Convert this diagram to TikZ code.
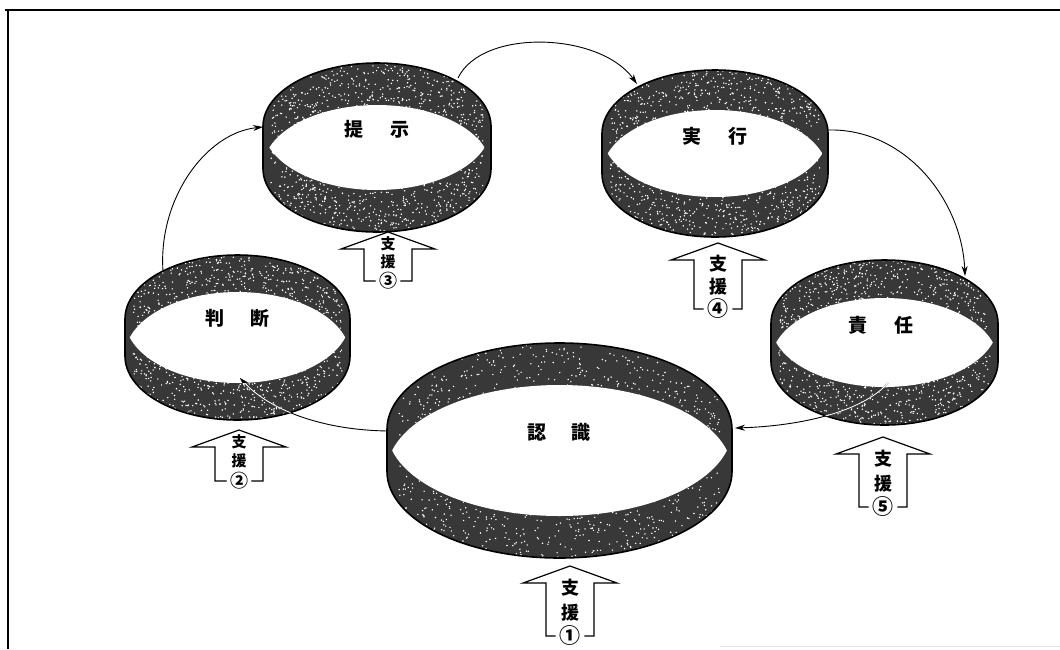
\documentclass[tikz,border=0pt]{standalone}
\usepackage{fontspec}
\newfontfamily\jp{Noto Sans CJK JP}
\usetikzlibrary{arrows.meta}
\tikzset{
  band/.style={fill=black!78},
  rimline/.style={draw=black, line width=1.6pt},
  conn/.style={line width=0.9pt, -{Stealth[length=10pt,width=6pt]}},
  connw/.style={line width=0.9pt, draw=white, -{Stealth[length=10pt,width=6pt]}},
  lbl/.style={font=\jp\bfseries\fontsize{19}{19}\selectfont, inner sep=0pt},
  suppbox/.style={draw=black, fill=white, line width=1.2pt, line join=miter},
  supptxt/.style={font=\jp\bfseries\fontsize{#1}{#1}\selectfont, inner sep=0pt},
  circnum/.style={font=\jp\bfseries\fontsize{#1}{#1}\selectfont, inner sep=0pt, fill=white, circle},
  frameline/.style={draw=black, line width=2pt},
}
% ring: cx, y of top rim centre, y of bottom rim centre, x radius, y radius
\newcommand{\ringdraw}[5]{%
  \path[band] (#1+#4,#2) arc[start angle=0,end angle=-180,x radius=#4,y radius=#5]
     -- (#1-#4,#3) arc[start angle=180,end angle=0,x radius=#4,y radius=#5] -- cycle;
  \begin{scope}
    \clip (#1+#4,#2) arc[start angle=0,end angle=-180,x radius=#4,y radius=#5]
     -- (#1-#4,#3) arc[start angle=180,end angle=0,x radius=#4,y radius=#5] -- cycle;
    \foreach \k in {1,...,1400}{%
      \fill[white] ({#1+(2*rnd-1)*#4*0.93},{#2-#5+rnd*(#3-#2+2*#5)}) circle[radius=0.8];}
  \end{scope}
  \begin{scope}
    \clip (#1,#2) ellipse[x radius=#4,y radius=#5];
    \fill[white] (#1,#3) ellipse[x radius=#4,y radius=#5];
  \end{scope}
  \path[rimline] (#1+#4,#2) arc[start angle=0,end angle=-180,x radius=#4,y radius=#5]
     -- (#1-#4,#3) arc[start angle=180,end angle=0,x radius=#4,y radius=#5] -- cycle;
}
% support arrow: tip x, tip y, bottom y, number glyph, name, text size, frac 1, frac 2, circle size
\newcommand{\suppArrow}[9]{%
  \path[suppbox] (#1,#2) -- (#1+47,#2+17) -- (#1+24,#2+17) -- (#1+24,#3)
     -- (#1-24,#3) -- (#1-24,#2+17) -- (#1-47,#2+17) -- cycle;
  \node[supptxt=#6] (#5a) at (#1,{#2+#7*(#3-#2)}) {支};
  \node[supptxt=#6] (#5b) at (#1,{#2+#8*(#3-#2)}) {援};
  \node[circnum=#9] (#5c) at (#1,#3) {#4};
}
\begin{document}
\begin{tikzpicture}[x=1pt,y=-1pt]
\useasboundingbox (0,0) rectangle (1060,649);
\pgfmathsetseed{4711}
% frame
\draw[frameline] (5,10) -- (1060,10);
\draw[frameline] (8,9) -- (8,649);
\draw[gray!22, line width=1pt] (720,646) -- (1060,646);

% rings
\ringdraw{377}{126.5}{168.5}{114}{63.5}
\ringdraw{715}{133.5}{173.5}{113}{63.5}
\ringdraw{237.5}{319}{356}{112.5}{64}
\ringdraw{884.5}{323.5}{361.5}{113.5}{63.5}
\ringdraw{559.5}{429.5}{471.5}{172.5}{86.5}

% labels
\node[lbl] (teiji)    at (377,129)   {提\hspace{1.4em}示};
\node[lbl] (jikko)    at (715,136)   {実\hspace{1.4em}行};
\node[lbl] (handan)   at (237.5,318) {判\hspace{1.4em}断};
\node[lbl] (sekinin)  at (881,325)   {責\hspace{1.4em}任};
\node[lbl] (ninshiki) at (559,432)   {認\hspace{1.35em}識};

% connector end points
\coordinate (h1) at (163,271);
\coordinate (t1) at (263,127);
\coordinate (t2s) at (458,78);
\coordinate (j2) at (637,84);
\coordinate (j3s) at (828,130);
\coordinate (s3) at (965,276);
\coordinate (s4s) at (888,383);
\coordinate (n4) at (735,428);
\coordinate (n5s) at (388,431);
\coordinate (h5) at (240,378);

\draw[conn] (h1) .. controls (158,200) and (205,133) .. (t1);
\draw[conn] (t2s) .. controls (482,28) and (600,32) .. (j2);
\draw[conn] (j3s) .. controls (905,128) and (962,200) .. (s3);
\draw[conn] (s4s) .. controls (862,412) and (800,426) .. (n4);
\draw[conn] (n5s) .. controls (318,430) and (268,408) .. (h5);

% connector parts seen over the dark bands
\begin{scope}
  \clip (884.5,361.5) ellipse[x radius=113.5,y radius=63.5];
  \draw[connw] (s4s) .. controls (862,412) and (800,426) .. (n4);
\end{scope}
\begin{scope}
  \clip (237.5,356) ellipse[x radius=112.5,y radius=64];
  \draw[connw] (n5s) .. controls (318,430) and (268,408) .. (h5);
\end{scope}
\begin{scope}
  \clip (237.5,356) ellipse[x radius=112.5,y radius=64];
  \clip (237.5,319) ellipse[x radius=112.5,y radius=64];
  \draw[conn] (n5s) .. controls (318,430) and (268,408) .. (h5);
\end{scope}

% support arrows
\suppArrow{570}{566}{636}{①}{sA}{18}{0.31}{0.66}{21}
\suppArrow{239}{430}{481}{②}{sB}{15}{0.24}{0.60}{18}
\suppArrow{388}{232}{281}{③}{sC}{15}{0.24}{0.60}{18}
\suppArrow{718}{243}{309}{④}{sD}{18}{0.31}{0.66}{21}
\suppArrow{883}{437}{507}{⑤}{sE}{18}{0.31}{0.66}{21}
\end{tikzpicture}
\end{document}
